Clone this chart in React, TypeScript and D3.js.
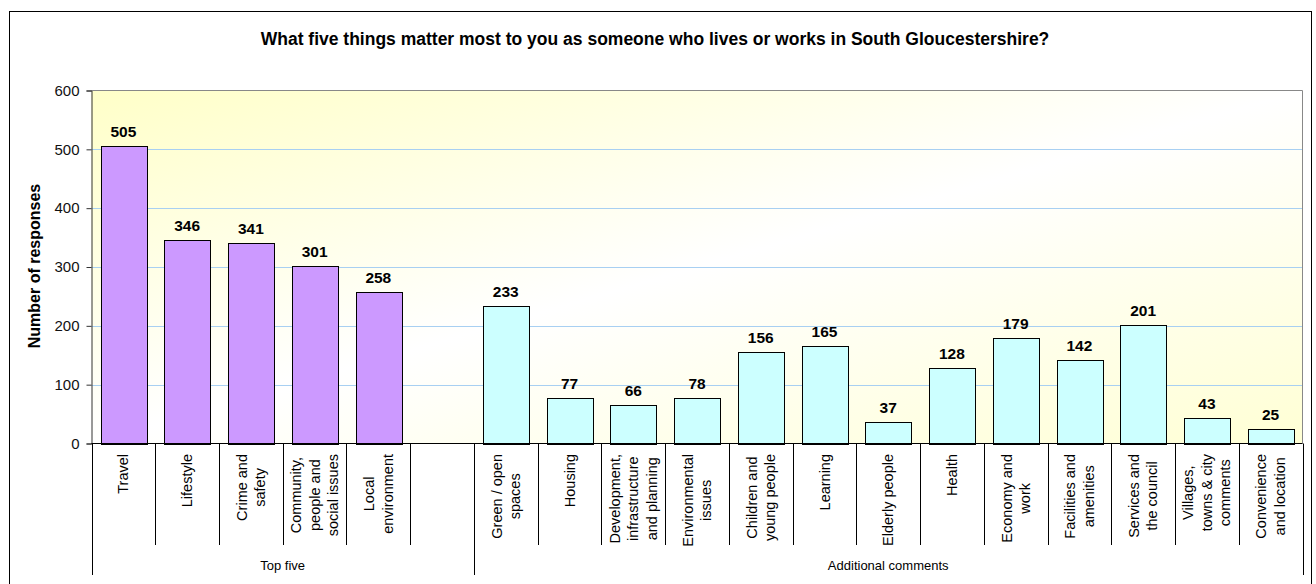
import React, { useEffect, useRef } from "react";
import * as d3 from "d3";

// categories (line breaks as in the original axis labels)
const categories = [
  "Travel",
  "Lifestyle",
  "Crime and\nsafety",
  "Community,\npeople and\nsocial issues",
  "Local\nenvironment",
  "",
  "Green / open\nspaces",
  "Housing",
  "Development,\ninfrastructure\nand planning",
  "Environmental\nissues",
  "Children and\nyoung people",
  "Learning",
  "Elderly people",
  "Health",
  "Economy and\nwork",
  "Facilities and\namenities",
  "Services and\nthe council",
  "Villages,\ntowns & city\ncomments",
  "Convenience\nand location",
];
const values = [505, 346, 341, 301, 258, null, 233, 77, 66, 78, 156, 165, 37, 128, 179, 142, 201, 43, 25];
const groupNames = ["Top five", "Additional comments"];
const groupSizes = [6, 13];
const groupColors = ["#CC99FF", "#CCFFFF"];
const yTicks = [0, 100, 200, 300, 400, 500, 600];

const FONT = "'Liberation Sans', Arial, sans-serif";

function drawChart(node) {
  const svg = d3.select(node);
  svg.selectAll("*").remove();

  const plotLeft = 91.5, plotRight = 1302.5, plotTop = 90.5, plotBottom = 443.5;

  const x = d3.scaleBand()
    .domain(d3.range(categories.length))
    .range([plotLeft, plotRight])
    .padding(0);
  const step = x.step();
  const barW = step / 1.4;

  const y = d3.scaleLinear()
    .domain([0, 600])
    .range([plotBottom, plotTop]);

  // which group each category belongs to
  const groupOf = [];
  groupSizes.forEach((n, g) => { for (let k = 0; k < n; k++) groupOf.push(g); });

  // outer frame
  svg.append("rect")
    .attr("x", 9.5).attr("y", 11.5)
    .attr("width", 1302).attr("height", 620)
    .attr("fill", "#fff").attr("stroke", "#000");

  // plot background gradient
  const defs = svg.append("defs");
  const grad = defs.append("linearGradient")
    .attr("id", "plotBg")
    .attr("x1", 0).attr("y1", 0).attr("x2", 1).attr("y2", 1);
  grad.append("stop").attr("offset", "0%").attr("stop-color", "#FFFFC8");
  grad.append("stop").attr("offset", "50%").attr("stop-color", "#FFFFFF");
  grad.append("stop").attr("offset", "100%").attr("stop-color", "#FFFFD4");

  svg.append("rect")
    .attr("x", plotLeft).attr("y", plotTop)
    .attr("width", plotRight - plotLeft).attr("height", plotBottom - plotTop)
    .attr("fill", "url(#plotBg)");

  // gridlines
  svg.append("g")
    .selectAll("line")
    .data(yTicks.filter(t => t > 0 && t < 600))
    .join("line")
    .attr("x1", plotLeft).attr("x2", plotRight)
    .attr("y1", d => Math.round(y(d)) + 0.5).attr("y2", d => Math.round(y(d)) + 0.5)
    .attr("stroke", "#A8D0F2").attr("stroke-width", 1);

  // plot border (top and right)
  svg.append("path")
    .attr("d", `M${plotLeft},${plotTop}H${plotRight}V${plotBottom}`)
    .attr("fill", "none").attr("stroke", "#888");

  // bars
  const barData = values.map((v, i) => ({ i, v })).filter(d => d.v !== null);
  svg.append("g")
    .selectAll("rect")
    .data(barData)
    .join("rect")
    .attr("x", d => Math.round(x(d.i) + (step - barW) / 2) + 0.5)
    .attr("y", d => Math.round(y(d.v)) + 0.5)
    .attr("width", Math.round(barW))
    .attr("height", d => Math.round(y(0)) - Math.round(y(d.v)))
    .attr("fill", d => groupColors[groupOf[d.i]])
    .attr("stroke", "#000");

  // data labels
  svg.append("g")
    .selectAll("text")
    .data(barData)
    .join("text")
    .attr("x", d => x(d.i) + step / 2)
    .attr("y", d => y(d.v) - 9)
    .attr("text-anchor", "middle")
    .attr("font-family", FONT)
    .attr("font-weight", "bold")
    .attr("font-size", 15.5)
    .text(d => d.v);

  // y axis
  const yAxis = svg.append("g")
    .attr("transform", `translate(${plotLeft},0)`)
    .call(d3.axisLeft(y).tickValues(yTicks).tickSize(5).tickPadding(7));
  yAxis.select(".domain").attr("stroke", "#333");
  yAxis.selectAll(".tick line").attr("stroke", "#333");
  yAxis.selectAll(".tick text")
    .attr("font-family", FONT)
    .attr("font-size", 15)
    .attr("fill", "#111");

  // x axis line
  svg.append("line")
    .attr("x1", plotLeft).attr("x2", plotRight)
    .attr("y1", plotBottom).attr("y2", plotBottom)
    .attr("stroke", "#000");

  // category separators, long ones between groups
  const groupEdges = [0];
  groupSizes.forEach(n => groupEdges.push(groupEdges[groupEdges.length - 1] + n));
  svg.append("g")
    .selectAll("line")
    .data(d3.range(categories.length + 1))
    .join("line")
    .attr("x1", k => Math.round(plotLeft + k * step) + 0.5)
    .attr("x2", k => Math.round(plotLeft + k * step) + 0.5)
    .attr("y1", plotBottom)
    .attr("y2", k => groupEdges.includes(k) ? 575 : 545)
    .attr("stroke", "#000");

  // category labels, rotated, block top-aligned below the axis
  const fs = 14.5, lh = 18.5;
  categories.forEach((name, i) => {
    if (!name) return;
    const lines = name.split("\n");
    const g = svg.append("g")
      .attr("transform", `translate(${x(i) + step / 2},0) rotate(-90)`);
    const texts = lines.map((ln, j) =>
      g.append("text")
        .attr("font-family", FONT)
        .attr("font-size", fs)
        .attr("text-anchor", "middle")
        .attr("y", (j - (lines.length - 1) / 2) * lh + fs * 0.35)
        .text(ln)
    );
    const maxLen = d3.max(texts, t => t.node().getComputedTextLength());
    texts.forEach(t => t.attr("x", -(plotBottom + 10.5 + maxLen / 2)));
  });

  // group labels
  groupNames.forEach((name, g) => {
    const x0 = plotLeft + groupEdges[g] * step;
    const x1 = plotLeft + groupEdges[g + 1] * step;
    svg.append("text")
      .attr("x", (x0 + x1) / 2)
      .attr("y", 570)
      .attr("text-anchor", "middle")
      .attr("font-family", FONT)
      .attr("font-size", 13)
      .text(name);
  });

  // title
  svg.append("text")
    .attr("x", 655)
    .attr("y", 45)
    .attr("text-anchor", "middle")
    .attr("font-family", FONT)
    .attr("font-weight", "bold")
    .attr("font-size", 17.5)
    .text("What five things matter most to you as someone who lives or works in South Gloucestershire?");

  // y axis title
  svg.append("text")
    .attr("transform", `translate(40,266) rotate(-90)`)
    .attr("text-anchor", "middle")
    .attr("font-family", FONT)
    .attr("font-weight", "bold")
    .attr("font-size", 16)
    .text("Number of responses");
}

export default function App() {
  const ref = useRef(null);

  useEffect(() => {
    drawChart(ref.current);
  }, []);

  return (
    <svg
      ref={ref}
      width={1316}
      height={584}
      style={{ position: "absolute", left: 0, top: 0 }}
    />
  );
}
